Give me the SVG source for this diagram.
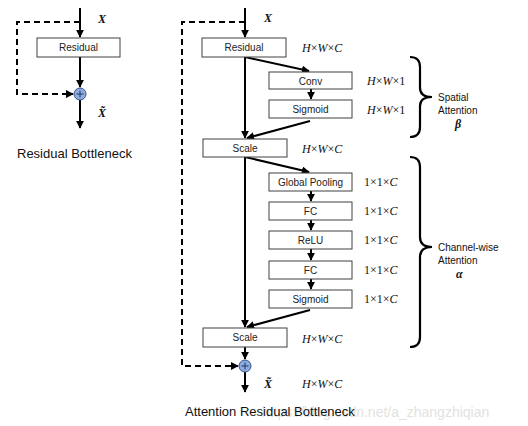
<svg xmlns="http://www.w3.org/2000/svg" width="528" height="426" viewBox="0 0 528 426">
<style>
.box{fill:#fff;stroke:#404040;stroke-width:1}
.bt{font-family:"Liberation Sans",Arial,sans-serif;font-size:10px;fill:#222;text-anchor:middle}
.ln{stroke:#000;stroke-width:2;fill:none}
.ds{stroke:#000;stroke-width:2;fill:none;stroke-dasharray:6,4}
.m{font-family:"Liberation Serif","Times New Roman",serif;font-size:12px;fill:#111}
.i{font-style:italic}
.mb{font-family:"Liberation Serif","Times New Roman",serif;font-style:italic;font-weight:bold;font-size:12px;fill:#111}
.cap{font-family:"Liberation Sans",Arial,sans-serif;font-size:13px;fill:#111}
.side{font-family:"Liberation Sans",Arial,sans-serif;font-size:10px;fill:#111}
.br{stroke:#000;stroke-width:2.2;fill:none}
.add{fill:#8faadc;stroke:#2f528f;stroke-width:1}
.wm{font-family:"Liberation Sans",Arial,sans-serif;font-size:14px;fill:#e2e2e2}
</style>
<defs>
<marker id="ah" viewBox="0 0 10 10" refX="9" refY="5" markerWidth="4" markerHeight="4" orient="auto" markerUnits="strokeWidth">
<path d="M0,0 L10,5 L0,10 z" fill="#000"/>
</marker>
</defs>

<text class="wm" x="262" y="417">https://blog.csdn.net/a_zhangzhiqian</text>

<g id="connectors">
<!-- left -->
<line class="ln" x1="80" y1="8" x2="80" y2="37" marker-end="url(#ah)"/>
<line class="ln" x1="80" y1="57" x2="80" y2="87" marker-end="url(#ah)"/>
<path class="ds" d="M80,22 H17 V94 H73" marker-end="url(#ah)"/>
<line class="ln" x1="80" y1="100" x2="80" y2="128" marker-end="url(#ah)"/>
<!-- right -->
<line class="ln" x1="245" y1="8" x2="245" y2="37" marker-end="url(#ah)"/>
<path class="ds" d="M245,22 H182 V366 H238" marker-end="url(#ah)"/>
<line class="ln" x1="245" y1="57" x2="309" y2="71" marker-end="url(#ah)"/>
<line class="ln" x1="311" y1="89" x2="311" y2="99" marker-end="url(#ah)"/>
<line class="ln" x1="310" y1="121" x2="247" y2="138" marker-end="url(#ah)"/>
<line class="ln" x1="245" y1="57" x2="245" y2="138" marker-end="url(#ah)"/>
<line class="ln" x1="245" y1="157" x2="309" y2="172" marker-end="url(#ah)"/>
<line class="ln" x1="311" y1="191" x2="311" y2="201" marker-end="url(#ah)"/>
<line class="ln" x1="311" y1="220" x2="311" y2="230" marker-end="url(#ah)"/>
<line class="ln" x1="311" y1="249" x2="311" y2="260" marker-end="url(#ah)"/>
<line class="ln" x1="311" y1="279" x2="311" y2="289" marker-end="url(#ah)"/>
<line class="ln" x1="310" y1="310" x2="247" y2="327" marker-end="url(#ah)"/>
<line class="ln" x1="245" y1="157" x2="245" y2="327" marker-end="url(#ah)"/>
<line class="ln" x1="245" y1="347" x2="245" y2="359" marker-end="url(#ah)"/>
<line class="ln" x1="245" y1="372" x2="245" y2="392" marker-end="url(#ah)"/>
</g>

<g id="left-residual"><rect class="box" x="37" y="38" width="83" height="19"/><text class="bt" x="78.5" y="51">Residual</text></g>
<g id="left-add"><circle class="add" cx="80" cy="94" r="6"/><path d="M76.5,94 H83.5 M80,90.5 V97.5" stroke="#1f3864" stroke-width="1"/></g>
<g id="left-labels">
<text class="mb" x="98" y="23">X</text>
<text class="mb" x="98" y="117">X̃</text>
<text class="cap" x="17" y="158">Residual Bottleneck</text>
</g>

<g id="residual"><rect class="box" x="202" y="38" width="84" height="19"/><text class="bt" x="244" y="51">Residual</text></g>
<g id="conv"><rect class="box" x="269" y="72" width="83" height="17"/><text class="bt" x="310.5" y="84.5">Conv</text></g>
<g id="sigmoid1"><rect class="box" x="269" y="100" width="83" height="18"/><text class="bt" x="310.5" y="113">Sigmoid</text></g>
<g id="scale1"><rect class="box" x="203" y="139" width="84" height="18"/><text class="bt" x="245" y="152">Scale</text></g>
<g id="gpool"><rect class="box" x="269" y="173" width="83" height="18"/><text class="bt" x="310.5" y="186">Global Pooling</text></g>
<g id="fc1"><rect class="box" x="269" y="202" width="83" height="18"/><text class="bt" x="310.5" y="215">FC</text></g>
<g id="relu"><rect class="box" x="269" y="231" width="83" height="18"/><text class="bt" x="310.5" y="244">ReLU</text></g>
<g id="fc2"><rect class="box" x="269" y="261" width="83" height="18"/><text class="bt" x="310.5" y="274">FC</text></g>
<g id="sigmoid2"><rect class="box" x="269" y="290" width="83" height="18"/><text class="bt" x="310.5" y="303">Sigmoid</text></g>
<g id="scale2"><rect class="box" x="203" y="328" width="84" height="19"/><text class="bt" x="245" y="341">Scale</text></g>
<g id="add"><circle class="add" cx="245" cy="366" r="6"/><path d="M241.5,366 H248.5 M245,362.5 V369.5" stroke="#1f3864" stroke-width="1"/></g>

<g id="labels">
<text class="mb" x="264" y="22">X</text>
<text class="m" x="302" y="52"><tspan class="i">H</tspan>×<tspan class="i">W</tspan>×<tspan class="i">C</tspan></text>
<text class="m" x="367" y="85"><tspan class="i">H</tspan>×<tspan class="i">W</tspan>×1</text>
<text class="m" x="367" y="114"><tspan class="i">H</tspan>×<tspan class="i">W</tspan>×1</text>
<text class="m" x="302" y="153"><tspan class="i">H</tspan>×<tspan class="i">W</tspan>×<tspan class="i">C</tspan></text>
<text class="m" x="364" y="186">1×1×<tspan class="i">C</tspan></text>
<text class="m" x="364" y="215">1×1×<tspan class="i">C</tspan></text>
<text class="m" x="364" y="244">1×1×<tspan class="i">C</tspan></text>
<text class="m" x="364" y="274">1×1×<tspan class="i">C</tspan></text>
<text class="m" x="364" y="303">1×1×<tspan class="i">C</tspan></text>
<text class="m" x="302" y="343"><tspan class="i">H</tspan>×<tspan class="i">W</tspan>×<tspan class="i">C</tspan></text>
<text class="mb" x="264" y="388">X̃</text>
<text class="m" x="302" y="388"><tspan class="i">H</tspan>×<tspan class="i">W</tspan>×<tspan class="i">C</tspan></text>
<text class="cap" x="185" y="416">Attention Residual Bottleneck</text>
</g>

<g id="spatial-attention">
<path class="br" d="M410,57 Q420,57 420,67 V88 Q420,97 432,97 Q420,97 420,106 V127 Q420,137 410,137"/>
<text class="side" x="438" y="101">Spatial</text>
<text class="side" x="438" y="114">Attention</text>
<text class="mb" x="455" y="128">β</text>
</g>
<g id="channel-attention">
<path class="br" d="M410,157 Q420,157 420,167 V237 Q420,247 432,247 Q420,247 420,257 V337 Q420,347 410,347"/>
<text class="side" x="438" y="251">Channel-wise</text>
<text class="side" x="438" y="264">Attention</text>
<text class="mb" x="456" y="278">α</text>
</g>
</svg>
